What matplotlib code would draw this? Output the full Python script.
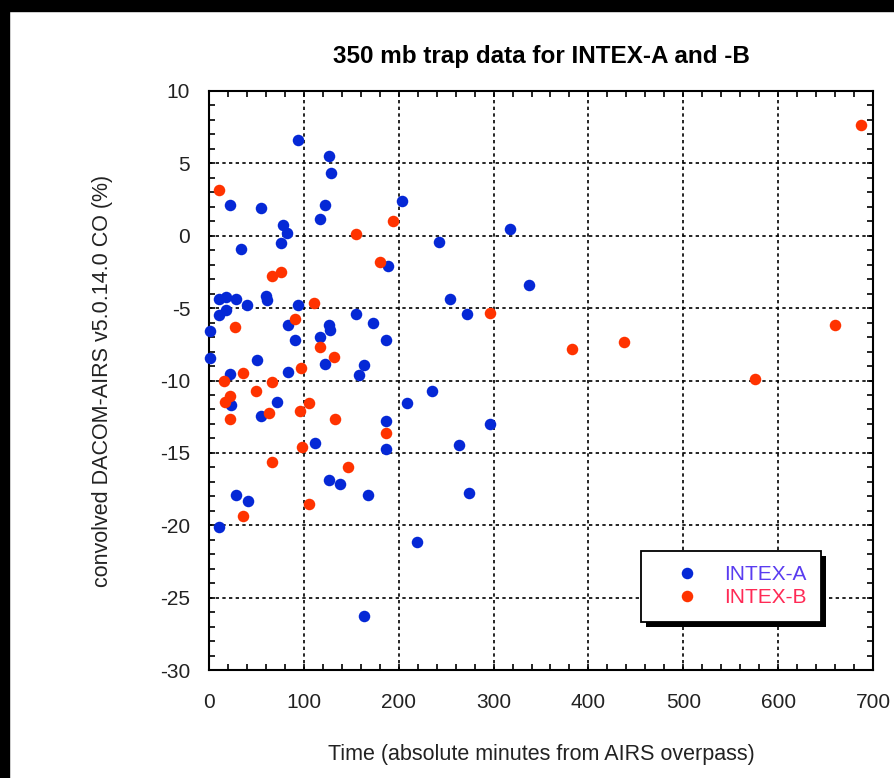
import matplotlib
matplotlib.use("Agg")
import matplotlib.pyplot as plt
from matplotlib.patches import Rectangle
from matplotlib.ticker import MultipleLocator

plt.rcParams['font.family'] = ['Liberation Sans', 'DejaVu Sans']
plt.rcParams['axes.unicode_minus'] = False

# INTEX-A (blue)
xa = [93.7, 127, 128.7, 22.4, 54.5, 122.7, 116.8, 203.8, 78.3, 81.8,
      76.2, 242.7, 33.6, 189.2, 337, 317, 254.5, 272, 10.8, 17.8,
      28.3, 39.9, 59.8, 61.5, 93.7, 10.8, 17.8, 155.2, 172.7, 1.4,
      83.2, 126.9, 127.3, 116.8, 90.2, 186.4, 1.4, 51, 122.7, 163.6,
      83.8, 157.9, 22.4, 234.6, 209, 23, 71.8, 54.5, 186.7, 296.5,
      263.6, 186.7, 111.9, 126.2, 138.5, 167.1, 274.5, 28.3, 40.6, 10.8,
      218.9, 163.6]
ya = [6.63, 5.48, 4.33, 2.15, 1.9, 2.15, 1.16, 2.43, 0.77, 0.2,
      -0.52, -0.4, -0.91, -2.1, -3.4, 0.45, -4.4, -5.39, -4.36, -4.24,
      -4.4, -4.77, -4.13, -4.45, -4.77, -5.5, -5.16, -5.39, -6.0, -6.55,
      -6.2, -6.2, -6.54, -7.0, -7.2, -7.23, -8.47, -8.6, -8.84, -8.9,
      -9.38, -9.6, -9.57, -10.7, -11.57, -11.72, -11.46, -12.45, -12.78, -13.0,
      -14.47, -14.7, -14.33, -16.87, -17.18, -17.94, -17.8, -17.94, -18.33, -20.1,
      -21.18, -26.3]

# INTEX-B (red)
xb = [10.8, 194.4, 155.2, 180.4, 66.8, 76.2, 296.5, 111.2, 27.3, 90.2,
      116.8, 132.2, 97.2, 35.5, 16, 66.8, 49.3, 16.8, 22.4, 105.6,
      96.2, 63.3, 22.4, 132.5, 186.7, 97.9, 66.8, 146.9, 105.6, 35.5,
      687, 383, 437.7, 576, 660]
yb = [3.18, 1.0, 0.13, -1.78, -2.75, -2.47, -5.32, -4.63, -6.31, -5.78,
      -7.69, -8.38, -9.14, -9.5, -10.0, -10.1, -10.7, -11.5, -11.04, -11.57,
      -12.08, -12.22, -12.63, -12.66, -13.63, -14.56, -15.62, -15.97, -18.56, -19.33,
      7.67, -7.83, -7.32, -9.9, -6.16]

txt = '#222222'
blue = '#0528d6'
red = '#ff3300'

fig = plt.figure(figsize=(8.94, 7.78), dpi=100)
# black frame bits at top and left
fig.patches.append(Rectangle((0, 1 - 11/778), 1, 11/778, transform=fig.transFigure,
                             color='black', zorder=0))
fig.patches.append(Rectangle((0, 0), 9/894, 1, transform=fig.transFigure,
                             color='black', zorder=0))

ax = fig.add_axes([209/894, 108/778, 664/894, 579/778])

ax.plot(xa, ya, 'o', color=blue, markersize=8.3, markeredgewidth=0,
        clip_on=False, label='INTEX-A', zorder=3)
ax.plot(xb, yb, 'o', color=red, markersize=8.3, markeredgewidth=0,
        clip_on=False, label='INTEX-B', zorder=3)

ax.set_xlim(0, 700)
ax.set_ylim(-30, 10)
ax.xaxis.set_major_locator(MultipleLocator(100))
ax.xaxis.set_minor_locator(MultipleLocator(20))
ax.yaxis.set_major_locator(MultipleLocator(5))
ax.yaxis.set_minor_locator(MultipleLocator(1))

ax.grid(True, which='major', color='black', linestyle=(0, (2, 2)), linewidth=1.2)
ax.tick_params(which='both', direction='in', top=True, right=True,
               width=1.2, length=4.5, colors='black', labelcolor=txt,
               labelsize=15)
ax.tick_params(axis='x', pad=16.5)
ax.tick_params(axis='y', pad=13.5)
for s in ax.spines.values():
    s.set_linewidth(1.5)

ax.set_title('350 mb trap data for INTEX-A and -B', fontsize=17.5,
             fontweight='bold', pad=20)
ax.set_xlabel('Time (absolute minutes from AIRS overpass)', fontsize=15.5,
              color=txt, labelpad=23)
ax.set_ylabel('convolved DACOM-AIRS v5.0.14.0 CO (%)', fontsize=15.5,
              color=txt, labelpad=34)

leg = ax.legend(loc='lower left', bbox_to_anchor=(0.6506, 0.0829),
                borderaxespad=0, fontsize=15, fancybox=False,
                framealpha=1, edgecolor='black', handlelength=3.0,
                handletextpad=0.28, borderpad=0.7, labelspacing=0.2,
                numpoints=1)
leg.get_frame().set_linewidth(1.3)
leg.get_texts()[0].set_color('#5a3cf0')
leg.get_texts()[1].set_color('#ff2a55')

# solid black drop shadow, offset like the original
fig.canvas.draw()
bb = leg.get_window_extent()
ax.add_patch(Rectangle((bb.x0 + 5, bb.y0 - 5), bb.width, bb.height,
                       transform=None, facecolor='black', edgecolor='none',
                       zorder=4.9, clip_on=False))

fig.savefig('out.png', dpi=100)
